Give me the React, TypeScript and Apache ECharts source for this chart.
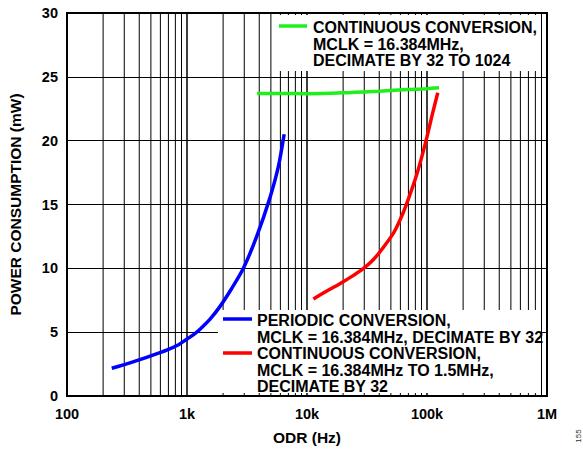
import React, { useEffect, useRef } from "react";
import * as echarts from "echarts";

// ---- data ----
const periodicX = [236, 300, 381, 500, 677, 850, 995, 1150, 1290, 1550, 1880, 2350, 2950, 3810, 4900, 5770, 6450];
const periodicY = [2.17, 2.46, 2.77, 3.15, 3.6, 4.02, 4.45, 4.85, 5.25, 6.0, 7.0, 8.4, 10.0, 12.5, 15.5, 17.96, 20.5];

const contDecX = [3840, 6000, 10000, 20000, 40000, 70000, 100000, 126000];
const contDecY = [23.7, 23.7, 23.68, 23.75, 23.88, 24.0, 24.07, 24.14];

const contMclkX = [11300, 14500, 18800, 23500, 29400, 35000, 40600, 52400, 59600, 67900, 82500, 98200, 111000, 123000];
const contMclkY = [7.6, 8.2, 8.8, 9.35, 9.98, 10.6, 11.3, 12.74, 13.78, 15.09, 17.4, 20.0, 22.1, 23.75];

const minorGridX = [
  200, 300, 400, 500, 600, 700, 800, 900,
  2000, 3000, 4000, 5000, 6000, 7000, 8000, 9000,
  20000, 30000, 40000, 50000, 60000, 70000, 80000, 90000,
  200000, 300000, 400000, 500000, 600000, 700000, 800000, 900000,
];

const xTickLabels: Record<number, string> = {
  100: "100",
  1000: "1k",
  10000: "10k",
  100000: "100k",
  1000000: "1M",
};

const legendTop = ["CONTINUOUS CONVERSION,", "MCLK = 16.384MHz,", "DECIMATE BY 32 TO 1024"];
const legendPeriodic = ["PERIODIC CONVERSION,", "MCLK = 16.384MHz, DECIMATE BY 32"];
const legendCont = ["CONTINUOUS CONVERSION,", "MCLK = 16.384MHz TO 1.5MHz,", "DECIMATE BY 32"];

const FONT = "'Liberation Sans', Arial, sans-serif";
const BLUE = "#0000ff";
const RED = "#ff0000";
const GREEN = "#1ef01e";

function zip(xs: number[], ys: number[]) {
  return xs.map((x, i) => [x, ys[i]]);
}

export default function App() {
  const ref = useRef<HTMLDivElement>(null);

  useEffect(() => {
    if (!ref.current) return;
    const chart = echarts.init(ref.current, undefined, { renderer: "svg" });

    const textStyle = (txt: string) => ({
      text: txt,
      font: `bold 16px ${FONT}`,
      fill: "#000",
      lineHeight: 16.7,
    });

    chart.setOption({
      animation: false,
      backgroundColor: "#fff",
      grid: {
        left: 67,
        right: 36,
        top: 13,
        bottom: 54,
        show: true,
        borderColor: "#000",
        borderWidth: 2,
        backgroundColor: "transparent",
      },
      xAxis: {
        type: "log",
        logBase: 10,
        min: 100,
        max: 1000000,
        axisLine: { show: true, lineStyle: { color: "#000", width: 2 } },
        axisTick: { show: false },
        splitLine: { show: true, lineStyle: { color: "#000", width: 1.5 } },
        axisLabel: {
          margin: 10,
          color: "#000",
          fontFamily: FONT,
          fontWeight: "bold",
          fontSize: 14.5,
          formatter: (v: number) => xTickLabels[Math.round(v)] ?? "",
        },
      },
      yAxis: {
        type: "value",
        min: 0,
        max: 30,
        interval: 5,
        axisLine: { show: true, lineStyle: { color: "#000", width: 2 } },
        axisTick: { show: false },
        splitLine: { show: true, lineStyle: { color: "#000", width: 1 } },
        axisLabel: {
          margin: 9,
          color: "#000",
          fontFamily: FONT,
          fontWeight: "bold",
          fontSize: 14.5,
        },
      },
      series: [
        {
          type: "custom",
          z: 0,
          silent: true,
          data: minorGridX.map((v) => [v, 0]),
          encode: { x: 0, y: 1 },
          renderItem: (_params: any, api: any) => {
            const xv = api.value(0);
            const p1 = api.coord([xv, 0]);
            const p2 = api.coord([xv, 30]);
            return {
              type: "line",
              shape: { x1: p1[0], y1: p1[1], x2: p2[0], y2: p2[1] },
              style: { stroke: "#000", lineWidth: 1 },
            };
          },
        },
        {
          type: "line",
          z: 3,
          data: zip(contDecX, contDecY),
          smooth: 0.3,
          showSymbol: false,
          lineStyle: { color: GREEN, width: 3.5 },
        },
        {
          type: "line",
          z: 3,
          data: zip(periodicX, periodicY),
          smooth: 0.3,
          showSymbol: false,
          lineStyle: { color: BLUE, width: 3.5 },
        },
        {
          type: "line",
          z: 3,
          data: zip(contMclkX, contMclkY),
          smooth: 0.3,
          showSymbol: false,
          lineStyle: { color: RED, width: 3.5 },
        },
      ],
      graphic: [
        // legend boxes
        { type: "rect", z: 1, silent: true, shape: { x: 273, y: 15, width: 265, height: 56 }, style: { fill: "#fff" } },
        { type: "rect", z: 1, silent: true, shape: { x: 218, y: 310, width: 322, height: 83 }, style: { fill: "#fff" } },
        // legend samples
        { type: "line", z: 2, shape: { x1: 279, y1: 26, x2: 307, y2: 26 }, style: { stroke: GREEN, lineWidth: 3.5 } },
        { type: "line", z: 2, shape: { x1: 223, y1: 319, x2: 252, y2: 319 }, style: { stroke: BLUE, lineWidth: 3.5 } },
        { type: "line", z: 2, shape: { x1: 223, y1: 353, x2: 252, y2: 353 }, style: { stroke: RED, lineWidth: 3.5 } },
        // legend texts
        { type: "text", z: 2, x: 313, y: 19.2, style: { ...textStyle(legendTop.join("\n")), verticalAlign: "top" } },
        { type: "text", z: 2, x: 257, y: 312, style: { ...textStyle(legendPeriodic.join("\n")), verticalAlign: "top" } },
        { type: "text", z: 2, x: 257, y: 345.2, style: { ...textStyle(legendCont.join("\n")), verticalAlign: "top" } },
        // axis titles
        {
          type: "text",
          x: 307,
          y: 437,
          style: { text: "ODR (Hz)", font: `bold 15.5px ${FONT}`, fill: "#000", align: "center", verticalAlign: "middle" },
        },
        {
          type: "text",
          x: 15,
          y: 204.5,
          rotation: Math.PI / 2,
          style: {
            text: "POWER CONSUMPTION (mW)",
            font: `bold 15.5px ${FONT}`,
            fill: "#000",
            align: "center",
            verticalAlign: "middle",
          },
        },
        {
          type: "text",
          x: 578,
          y: 436,
          rotation: Math.PI / 2,
          style: { text: "155", font: `8px ${FONT}`, fill: "#333", align: "center", verticalAlign: "middle" },
        },
      ],
    });

    return () => chart.dispose();
  }, []);

  return <div ref={ref} style={{ width: 583, height: 450, position: "absolute", left: 0, top: 0 }} />;
}
